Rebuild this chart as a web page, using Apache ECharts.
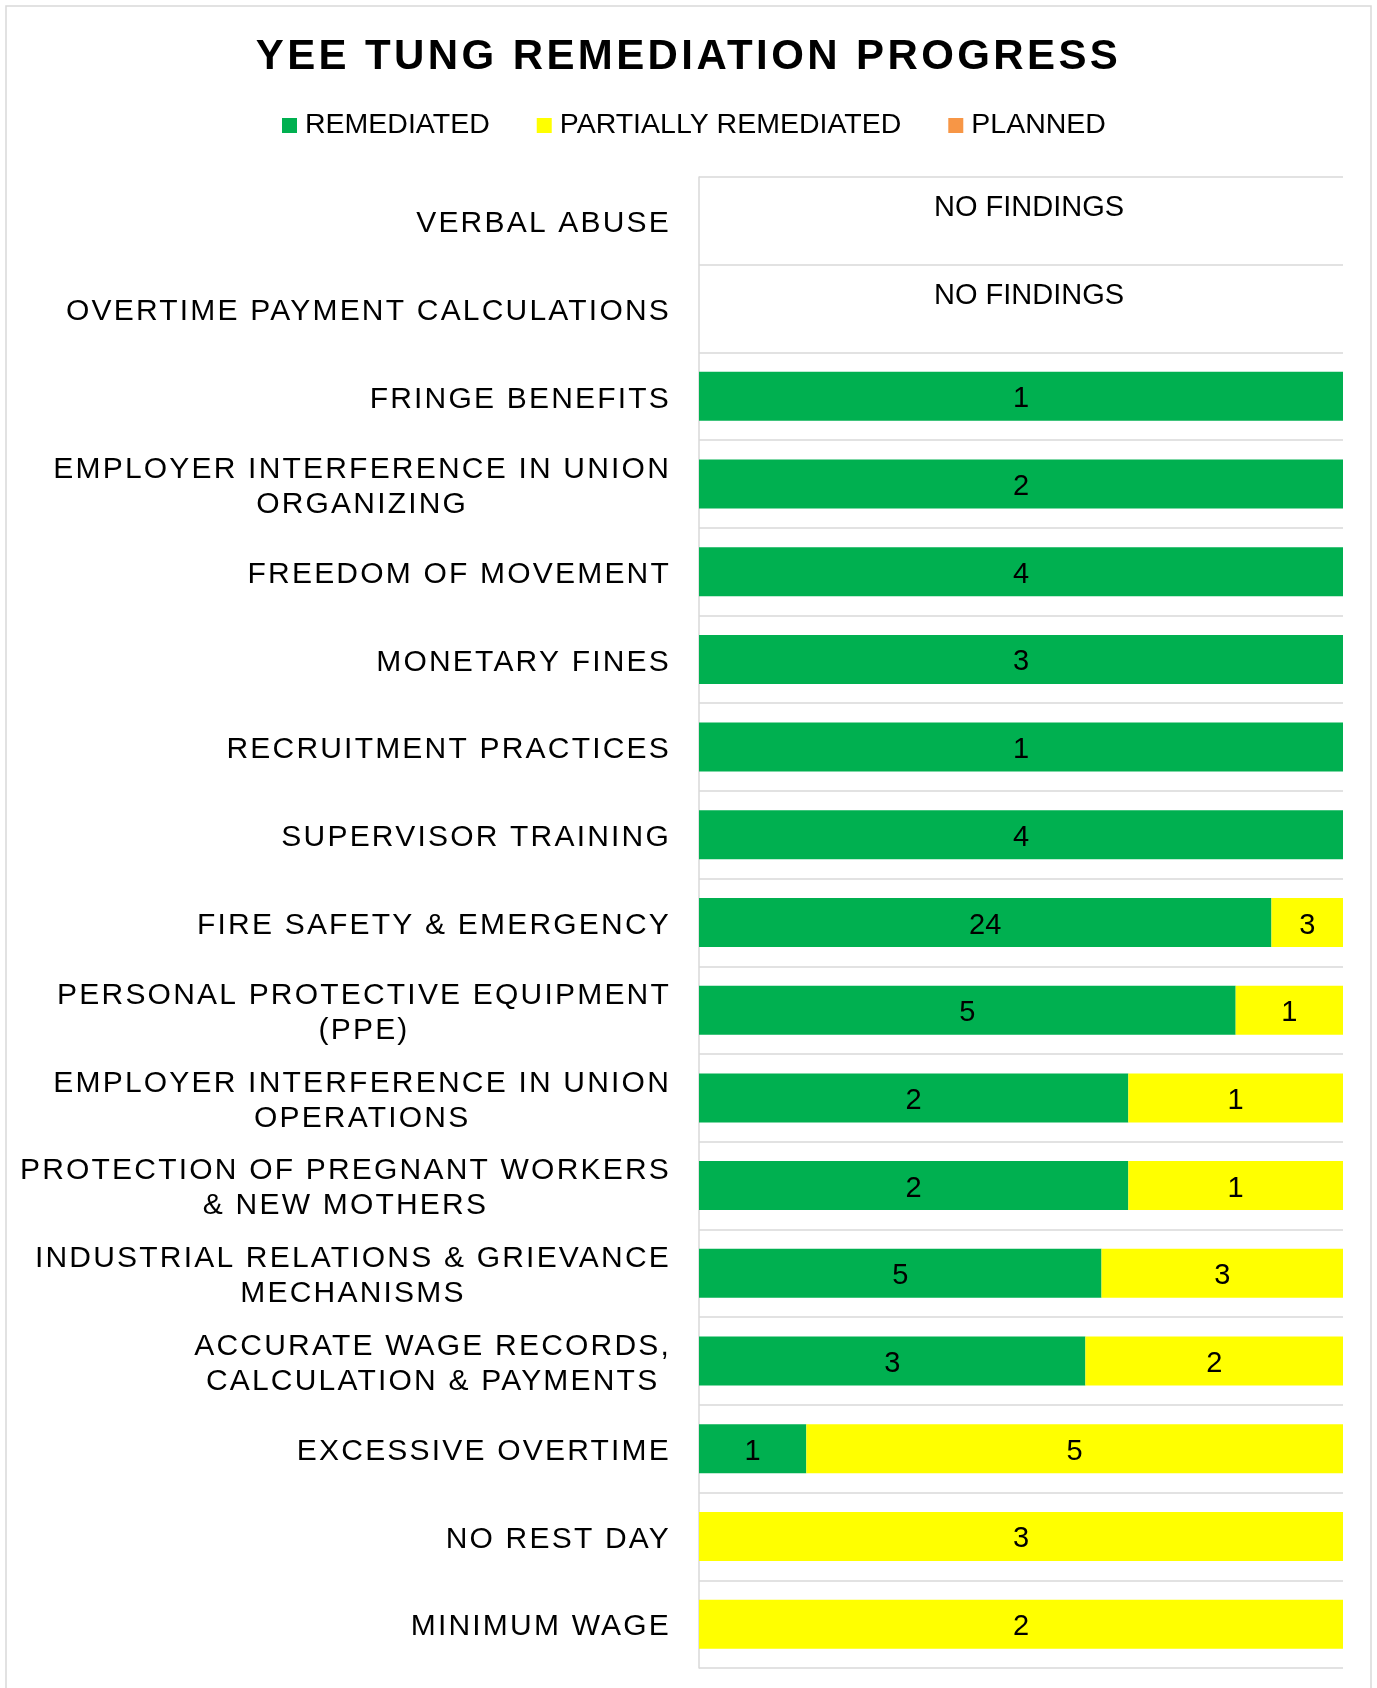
<!DOCTYPE html>
<html lang="en">
<head>
  <meta charset="UTF-8">
  <title>yee-tung-remediation</title>
  <script src="https://cdn.jsdelivr.net/npm/echarts@6/dist/echarts.min.js"></script>
  <style>
    html, body {
      margin: 0;
      padding: 0;
      background: #fff;
    }

    #chart-main {
      width: 1377px;
      height: 1688px;
    }
  </style>
</head>
<body>
<div id="chart-main"></div>

<script type="text/javascript">
  const categories = [
    'VERBAL ABUSE',
    'OVERTIME PAYMENT CALCULATIONS',
    'FRINGE BENEFITS',
    'EMPLOYER INTERFERENCE IN UNION\nORGANIZING',
    'FREEDOM OF MOVEMENT',
    'MONETARY FINES',
    'RECRUITMENT PRACTICES',
    'SUPERVISOR TRAINING',
    'FIRE SAFETY & EMERGENCY',
    'PERSONAL PROTECTIVE EQUIPMENT\n(PPE)',
    'EMPLOYER INTERFERENCE IN UNION\nOPERATIONS',
    'PROTECTION OF PREGNANT WORKERS\n& NEW MOTHERS',
    'INDUSTRIAL RELATIONS & GRIEVANCE\nMECHANISMS',
    'ACCURATE WAGE RECORDS,\nCALCULATION & PAYMENTS',
    'EXCESSIVE OVERTIME',
    'NO REST DAY',
    'MINIMUM WAGE'
  ]
  const remediated = [0, 0, 1, 2, 4, 3, 1, 4, 24, 5, 2, 2, 5, 3, 1, 0, 0]
  const partial = [0, 0, 0, 0, 0, 0, 0, 0, 3, 1, 1, 1, 3, 2, 5, 3, 2]
  const planned = [0, 0, 0, 0, 0, 0, 0, 0, 0, 0, 0, 0, 0, 0, 0, 0, 0]
  const seriesNames = ['REMEDIATED', 'PARTIALLY REMEDIATED', 'PLANNED']
  const emptyText = 'NO FINDINGS'

  const FONT = "'Liberation Sans', Arial, sans-serif"

  // canvas letter spacing, picked by font size (title / category labels)
  const spacingFor = function (f) {
    if (/42px/.test(f)) return '3.4px'
    if (/30px/.test(f)) return '2.2px'
    return '0px'
  }
  const origFill = CanvasRenderingContext2D.prototype.fillText
  CanvasRenderingContext2D.prototype.fillText = function (t, x, y, w) {
    if ('letterSpacing' in this) this.letterSpacing = spacingFor(this.font)
    return w === undefined ? origFill.call(this, t, x, y) : origFill.call(this, t, x, y, w)
  }

  const totals = categories.map((c, i) => remediated[i] + partial[i] + planned[i])
  const toPct = arr => arr.map((v, i) => ({value: totals[i] ? v / totals[i] * 100 : 0, raw: v}))
  const noFindings = totals.map(t => t === 0 ? 100 : null)

  // centre the lines of two-line labels inside a right aligned block
  const mctx = document.createElement('canvas').getContext('2d')
  mctx.font = '30px ' + FONT
  if ('letterSpacing' in mctx) mctx.letterSpacing = '2.2px'
  const rich = {}
  categories.forEach((c, i) => {
    const lines = c.split('\n')
    const ws = lines.map(l => mctx.measureText(l).width)
    const maxW = Math.max.apply(null, ws)
    lines.forEach((l, j) => {
      rich['c' + i + 'l' + j] = {
        fontSize: 30,
        fontFamily: FONT,
        color: '#000',
        lineHeight: 35,
        padding: [0, (maxW - ws[j]) / 2, 0, 0]
      }
    })
  })

  const barLabel = {
    show: true,
    position: 'inside',
    offset: [0, 3],
    color: '#000',
    fontSize: 29,
    fontFamily: FONT,
    formatter: p => p.data.raw ? String(p.data.raw) : ''
  }

  const colors = ['#00B050', '#FFFF00', '#F79646']
  const values = [remediated, partial, planned]

  let echartItem = echarts.init(document.getElementById('chart-main'))

  let option = {
    animation: false,
    backgroundColor: '#fff',
    title: {
      text: 'YEE TUNG REMEDIATION PROGRESS',
      left: 'center',
      top: 31,
      textStyle: {
        fontSize: 42,
        fontWeight: 'bold',
        fontFamily: FONT,
        color: '#000'
      }
    },
    legend: {
      data: seriesNames,
      left: 282,
      top: 111,
      padding: 0,
      icon: 'rect',
      itemWidth: 15,
      itemHeight: 15,
      itemGap: 47,
      textStyle: {
        fontSize: 28.5,
        fontFamily: FONT,
        color: '#000',
        padding: [0, 0, 0, 3]
      }
    },
    graphic: [{
      type: 'rect',
      silent: true,
      z: -1,
      shape: {x: 6, y: 6, width: 1365, height: 1700},
      style: {fill: 'none', stroke: '#d9d9d9', lineWidth: 1.5}
    }],
    grid: {
      left: 699,
      right: 34,
      top: 177,
      bottom: 20
    },
    xAxis: {
      type: 'value',
      min: 0,
      max: 100,
      show: false
    },
    yAxis: {
      type: 'category',
      inverse: true,
      data: categories,
      axisLine: {
        show: true,
        lineStyle: {color: '#d9d9d9', width: 1.5}
      },
      axisTick: {
        show: false
      },
      splitLine: {
        show: true,
        lineStyle: {color: '#d9d9d9', width: 1.5}
      },
      axisLabel: {
        interval: 0,
        margin: 28,
        fontSize: 30,
        fontFamily: FONT,
        color: '#000',
        padding: [6, 0, 0, 0],
        formatter: function (value, index) {
          return value.split('\n').map((l, j) => '{c' + index + 'l' + j + '|' + l + '}').join('\n')
        },
        rich: rich
      }
    },
    series: seriesNames.map((name, k) => ({
      name: name,
      type: 'bar',
      stack: 'total',
      barWidth: 49,
      itemStyle: {color: colors[k]},
      label: barLabel,
      emphasis: {disabled: true},
      data: toPct(values[k])
    })).concat([{
      name: emptyText,
      type: 'bar',
      stack: 'total',
      barWidth: 49,
      silent: true,
      itemStyle: {color: 'rgba(0,0,0,0)'},
      label: {
        show: true,
        position: 'inside',
        offset: [8, -13],
        color: '#000',
        fontSize: 29,
        fontFamily: FONT,
        formatter: emptyText
      },
      emphasis: {disabled: true},
      data: noFindings
    }])
  }

  echartItem.setOption(option)
</script>
</body>
</html>
